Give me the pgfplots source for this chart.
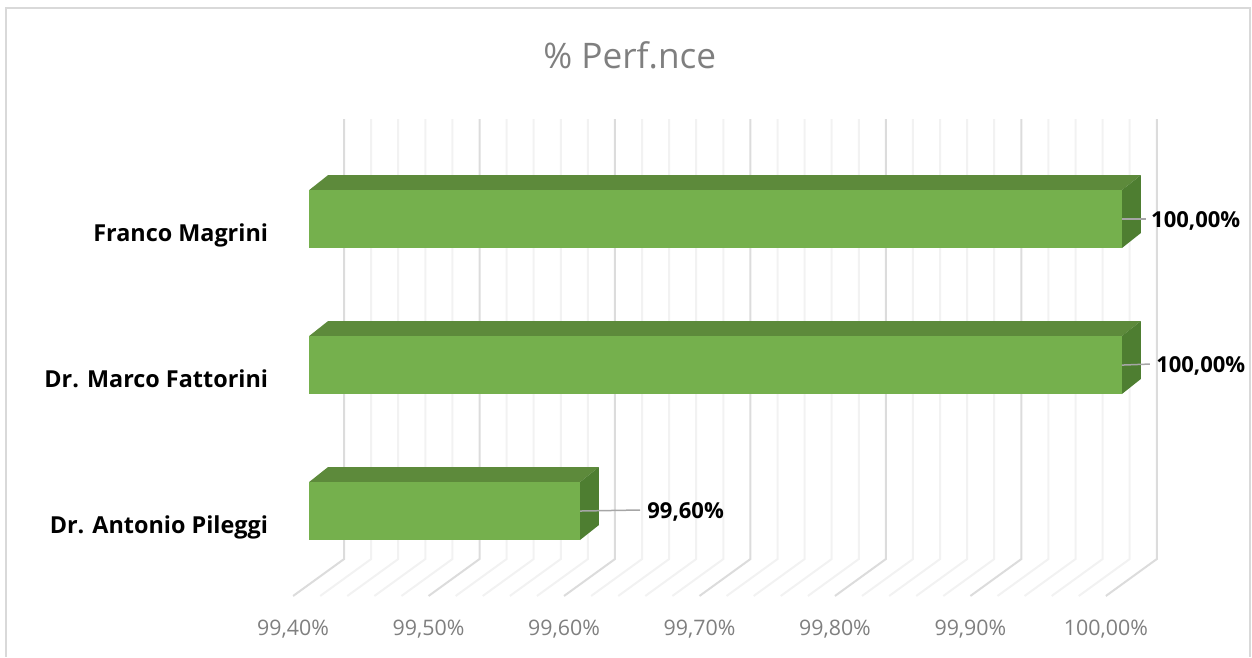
\documentclass[border=0pt]{standalone}
\usepackage{pgfplots}
\pgfplotsset{compat=1.18}
\usepackage{fontspec}
\setmainfont{Open Sans}
\definecolor{front}{HTML}{75B04D}
\definecolor{topf}{HTML}{5D8A3B}
\definecolor{sidef}{HTML}{4E7E31}
\definecolor{major}{HTML}{DCDCDC}
\definecolor{minor}{HTML}{F2F2F2}
\definecolor{txt}{HTML}{7F7F7F}
\definecolor{lead}{HTML}{A6A6A6}
\definecolor{frame}{HTML}{D9D9D9}
\begin{document}
\begin{tikzpicture}
\begin{axis}[
  scale only axis, width=626pt, height=328.5pt,
  xmin=99.17196, xmax=100.09594,
  ymin=-1, ymax=3.5,
  axis line style={draw=none},
  major tick length=0pt,
  xtick={99.3882,99.4882,99.5882,99.6882,99.7882,99.8882,99.9882},
  xticklabels={{99,40\%},{99,50\%},{99,60\%},{99,70\%},{99,80\%},{99,90\%},{100,00\%}},
  xticklabel style={anchor=center, yshift=14pt, font=\fontsize{10.7pt}{12pt}\selectfont, text=txt},
  ytick={0,1,2},
  yticklabels={{Dr. Antonio Pileggi},{Dr. Marco Fattorini},{Franco Magrini}},
  yticklabel style={anchor=base east, xshift=137.5pt, yshift=-11pt, font=\fontsize{11.7pt}{12pt}\selectfont\bfseries, text=black},
  title={\% Perf.nce},
  title style={at={(0.503,0.898)}, anchor=center, font=\fontsize{17.6pt}{20pt}\selectfont, text=txt},
  unbounded coords=jump,
]
% frame
\draw[frame, line width=1pt] (rel axis cs:0.0048,0) -- (rel axis cs:0.0048,0.9878) -- (rel axis cs:0.9984,0.9878) -- (rel axis cs:0.9984,0);
% minor grid lines
\addplot[minor, line width=1pt, forget plot] table[row sep=\\] {
x y\\
99.4082 -0.582\\ 99.4458 -0.329\\ 99.4458 2.685\\ nan nan\\
99.4282 -0.582\\ 99.4658 -0.329\\ 99.4658 2.685\\ nan nan\\
99.4482 -0.582\\ 99.4858 -0.329\\ 99.4858 2.685\\ nan nan\\
99.4682 -0.582\\ 99.5058 -0.329\\ 99.5058 2.685\\ nan nan\\
99.5082 -0.582\\ 99.5458 -0.329\\ 99.5458 2.685\\ nan nan\\
99.5282 -0.582\\ 99.5658 -0.329\\ 99.5658 2.685\\ nan nan\\
99.5482 -0.582\\ 99.5858 -0.329\\ 99.5858 2.685\\ nan nan\\
99.5682 -0.582\\ 99.6058 -0.329\\ 99.6058 2.685\\ nan nan\\
99.6082 -0.582\\ 99.6458 -0.329\\ 99.6458 2.685\\ nan nan\\
99.6282 -0.582\\ 99.6658 -0.329\\ 99.6658 2.685\\ nan nan\\
99.6482 -0.582\\ 99.6858 -0.329\\ 99.6858 2.685\\ nan nan\\
99.6682 -0.582\\ 99.7058 -0.329\\ 99.7058 2.685\\ nan nan\\
99.7082 -0.582\\ 99.7458 -0.329\\ 99.7458 2.685\\ nan nan\\
99.7282 -0.582\\ 99.7658 -0.329\\ 99.7658 2.685\\ nan nan\\
99.7482 -0.582\\ 99.7858 -0.329\\ 99.7858 2.685\\ nan nan\\
99.7682 -0.582\\ 99.8058 -0.329\\ 99.8058 2.685\\ nan nan\\
99.8082 -0.582\\ 99.8458 -0.329\\ 99.8458 2.685\\ nan nan\\
99.8282 -0.582\\ 99.8658 -0.329\\ 99.8658 2.685\\ nan nan\\
99.8482 -0.582\\ 99.8858 -0.329\\ 99.8858 2.685\\ nan nan\\
99.8682 -0.582\\ 99.9058 -0.329\\ 99.9058 2.685\\ nan nan\\
99.9082 -0.582\\ 99.9458 -0.329\\ 99.9458 2.685\\ nan nan\\
99.9282 -0.582\\ 99.9658 -0.329\\ 99.9658 2.685\\ nan nan\\
99.9482 -0.582\\ 99.9858 -0.329\\ 99.9858 2.685\\ nan nan\\
99.9682 -0.582\\ 100.0058 -0.329\\ 100.0058 2.685\\
};
% major grid lines
\addplot[major, line width=1pt, forget plot] table[row sep=\\] {
x y\\
99.3882 -0.582\\ 99.4258 -0.329\\ 99.4258 2.685\\ nan nan\\
99.4882 -0.582\\ 99.5258 -0.329\\ 99.5258 2.685\\ nan nan\\
99.5882 -0.582\\ 99.6258 -0.329\\ 99.6258 2.685\\ nan nan\\
99.6882 -0.582\\ 99.7258 -0.329\\ 99.7258 2.685\\ nan nan\\
99.7882 -0.582\\ 99.8258 -0.329\\ 99.8258 2.685\\ nan nan\\
99.8882 -0.582\\ 99.9258 -0.329\\ 99.9258 2.685\\ nan nan\\
99.9882 -0.582\\ 100.0258 -0.329\\ 100.0258 2.685\\
};
% Dr. Antonio Pileggi: 99.60
\addplot[fill=topf, draw=none, forget plot] coordinates {(99.4,0.1986) (99.6,0.1986) (99.614,0.3016) (99.414,0.3016)} -- cycle;
\addplot[fill=sidef, draw=none, forget plot] coordinates {(99.6,-0.1986) (99.614,-0.0956) (99.614,0.3016) (99.6,0.1986)} -- cycle;
\addplot[fill=front, draw=none, forget plot] coordinates {(99.4,-0.1986) (99.6,-0.1986) (99.6,0.1986) (99.4,0.1986)} -- cycle;
% Dr. Marco Fattorini: 100.00
\addplot[fill=topf, draw=none, forget plot] coordinates {(99.4,1.1986) (100,1.1986) (100.014,1.3016) (99.414,1.3016)} -- cycle;
\addplot[fill=sidef, draw=none, forget plot] coordinates {(100,0.8014) (100.014,0.9044) (100.014,1.3016) (100,1.1986)} -- cycle;
\addplot[fill=front, draw=none, forget plot] coordinates {(99.4,0.8014) (100,0.8014) (100,1.1986) (99.4,1.1986)} -- cycle;
% Franco Magrini: 100.00
\addplot[fill=topf, draw=none, forget plot] coordinates {(99.4,2.1986) (100,2.1986) (100.014,2.3016) (99.414,2.3016)} -- cycle;
\addplot[fill=sidef, draw=none, forget plot] coordinates {(100,1.8014) (100.014,1.9044) (100.014,2.3016) (100,2.1986)} -- cycle;
\addplot[fill=front, draw=none, forget plot] coordinates {(99.4,1.8014) (100,1.8014) (100,2.1986) (99.4,2.1986)} -- cycle;
% leader lines and data labels
\addplot[lead, line width=0.75pt, forget plot] coordinates {(99.6,0) (99.6443,0.007)} node[pos=1, anchor=west, xshift=0pt, yshift=-1pt, text=black, font=\fontsize{11pt}{12pt}\selectfont\bfseries] {99,60\%};
\addplot[lead, line width=0.75pt, forget plot] coordinates {(100,1) (100.0207,1.007)} node[pos=1, anchor=west, xshift=-0.5pt, yshift=-1pt, text=black, font=\fontsize{11pt}{12pt}\selectfont\bfseries] {100,00\%};
\addplot[lead, line width=0.75pt, forget plot] coordinates {(100,2) (100.0177,2)} node[pos=1, anchor=west, xshift=-1pt, yshift=-1pt, text=black, font=\fontsize{11pt}{12pt}\selectfont\bfseries] {100,00\%};
\end{axis}
\end{tikzpicture}
\end{document}
